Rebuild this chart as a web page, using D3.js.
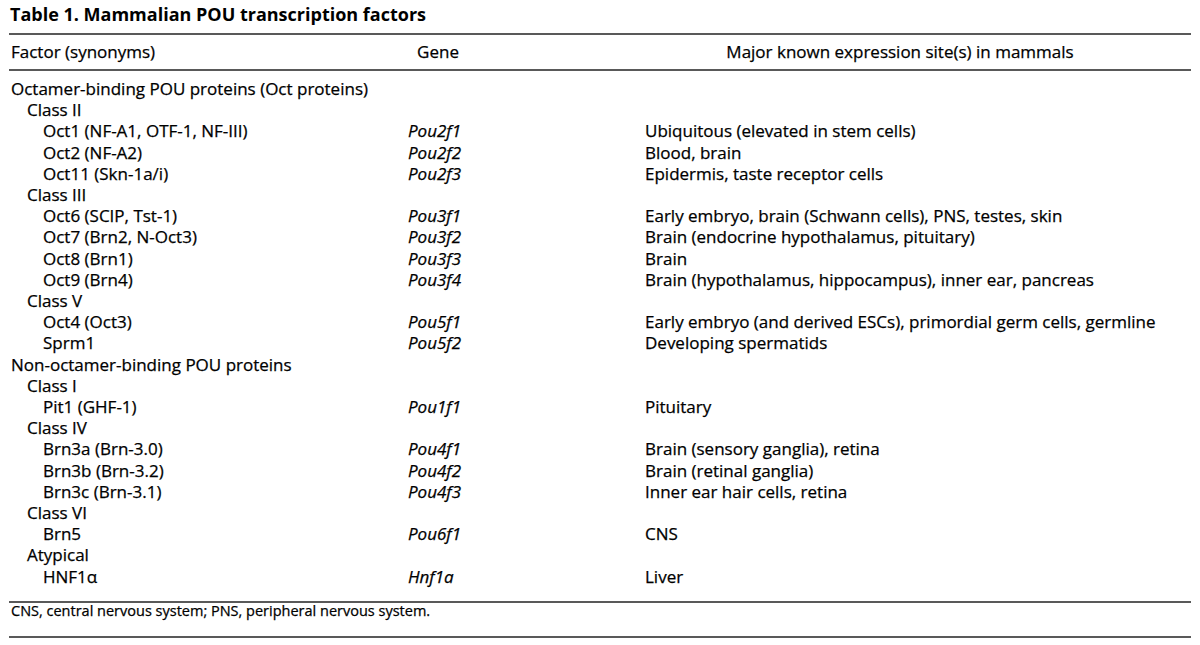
<!DOCTYPE html>
<html>
<head>
<meta charset="utf-8">
<script src="https://cdn.jsdelivr.net/npm/d3@7"></script>
<style>
  body { margin: 0; background: #fff; }
  svg { display: block; }
  text { font-family: "Open Sans", "Noto Sans", sans-serif; fill: #000; }
  text.body { stroke: #000; stroke-width: 0.25; }
</style>
</head>
<body>
<svg width="1200" height="645"></svg>
<script>
// table contents, one entry per row
const title = 'Table 1. Mammalian POU transcription factors';
const headers = ['Factor (synonyms)', 'Gene', 'Major known expression site(s) in mammals'];
const factors = [
  'Octamer-binding POU proteins (Oct proteins)',
  'Class II',
  'Oct1 (NF-A1, OTF-1, NF-III)',
  'Oct2 (NF-A2)',
  'Oct11 (Skn-1a/i)',
  'Class III',
  'Oct6 (SCIP, Tst-1)',
  'Oct7 (Brn2, N-Oct3)',
  'Oct8 (Brn1)',
  'Oct9 (Brn4)',
  'Class V',
  'Oct4 (Oct3)',
  'Sprm1',
  'Non-octamer-binding POU proteins',
  'Class I',
  'Pit1 (GHF-1)',
  'Class IV',
  'Brn3a (Brn-3.0)',
  'Brn3b (Brn-3.2)',
  'Brn3c (Brn-3.1)',
  'Class VI',
  'Brn5',
  'Atypical',
  'HNF1\u03B1',
];
const levels = [0, 1, 2, 2, 2, 1, 2, 2, 2, 2, 1, 2, 2, 0, 1, 2, 1, 2, 2, 2, 1, 2, 1, 2];
const genes = [
  '', '', 'Pou2f1', 'Pou2f2', 'Pou2f3', '', 'Pou3f1', 'Pou3f2', 'Pou3f3', 'Pou3f4',
  '', 'Pou5f1', 'Pou5f2', '', '', 'Pou1f1', '', 'Pou4f1', 'Pou4f2', 'Pou4f3',
  '', 'Pou6f1', '', 'Hnf1a',
];
const sites = [
  '', '',
  'Ubiquitous (elevated in stem cells)',
  'Blood, brain',
  'Epidermis, taste receptor cells',
  '',
  'Early embryo, brain (Schwann cells), PNS, testes, skin',
  'Brain (endocrine hypothalamus, pituitary)',
  'Brain',
  'Brain (hypothalamus, hippocampus), inner ear, pancreas',
  '',
  'Early embryo (and derived ESCs), primordial germ cells, germline',
  'Developing spermatids',
  '', '',
  'Pituitary',
  '',
  'Brain (sensory ganglia), retina',
  'Brain (retinal ganglia)',
  'Inner ear hair cells, retina',
  '',
  'CNS',
  '',
  'Liver',
];
const footnote = 'CNS, central nervous system; PNS, peripheral nervous system.';

const svg = d3.select('svg');
const fontSize = 17;

// row baselines
const y = d3.scaleLinear().domain([0, factors.length - 1]).range([95, 582.6]);
const indent = d3.scaleLinear().domain([0, 2]).range([11, 43]);
const colGene = 408;
const colSite = 645;

// rules
const rules = [34, 70, 602, 637];
svg.selectAll('line.rule')
  .data(rules)
  .enter()
  .append('line')
  .attr('class', 'rule')
  .attr('x1', 9)
  .attr('x2', 1191)
  .attr('y1', d => d)
  .attr('y2', d => d)
  .attr('stroke', '#222')
  .attr('stroke-width', 1.6);

svg.append('text')
  .attr('x', 10)
  .attr('y', 21)
  .attr('font-size', 18)
  .attr('font-weight', 'bold')
  .text(title);

// header
const headX = [11, 438, 900];
const headAnchor = ['start', 'middle', 'middle'];
svg.selectAll('text.head')
  .data(headers)
  .enter()
  .append('text')
  .attr('class', 'head body')
  .attr('x', (d, i) => headX[i])
  .attr('y', 58)
  .attr('font-size', fontSize)
  .attr('text-anchor', (d, i) => headAnchor[i])
  .text(d => d);

const rows = factors.map((f, i) => ({f: f, lvl: levels[i], gene: genes[i], site: sites[i], i: i}));

svg.selectAll('text.factor')
  .data(rows)
  .enter()
  .append('text')
  .attr('class', 'factor body')
  .attr('x', d => indent(d.lvl))
  .attr('y', d => y(d.i))
  .attr('font-size', fontSize)
  .text(d => d.f);

svg.selectAll('text.gene')
  .data(rows.filter(d => d.gene))
  .enter()
  .append('text')
  .attr('class', 'gene body')
  .attr('x', colGene)
  .attr('y', d => y(d.i))
  .attr('font-size', fontSize)
  .attr('font-style', 'italic')
  .text(d => d.gene);

svg.selectAll('text.site')
  .data(rows.filter(d => d.site))
  .enter()
  .append('text')
  .attr('class', 'site body')
  .attr('x', colSite)
  .attr('y', d => y(d.i))
  .attr('font-size', fontSize)
  .text(d => d.site);

svg.append('text')
  .attr('class', 'body')
  .attr('x', 11)
  .attr('y', 616)
  .attr('font-size', 14.5)
  .text(footnote);
</script>
</body>
</html>
